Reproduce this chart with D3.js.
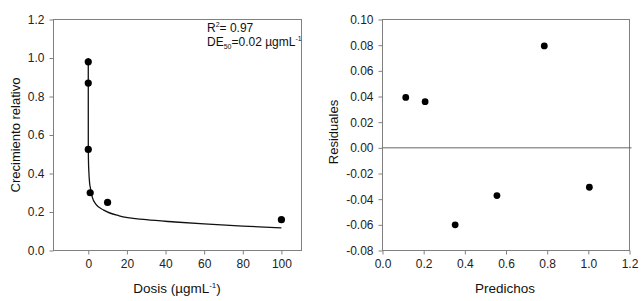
<!DOCTYPE html>
<html>
<head>
<meta charset="utf-8">
<script src="https://cdn.jsdelivr.net/npm/d3@7"></script>
<style>
  body { margin: 0; background: #fff; }
  svg { font-family: "Liberation Sans", Arial, sans-serif; }
  .tick text { font-size: 12px; fill: #222; }
  .tick line { stroke: #808080; }
</style>
</head>
<body>
<svg id="chart" width="643" height="301"></svg>
<script>
// dose-response data (left panel)
const doses = [0, 0, 0, 1, 10, 100];
const growth = [0.98, 0.87, 0.525, 0.30, 0.25, 0.16];
// fitted curve
const curveDose = [0, 0.02, 0.1, 0.3, 0.7, 1, 2, 4, 8, 16, 30, 45, 60, 80, 100];
const curveGrowth = [1.0, 0.55, 0.47, 0.41, 0.35, 0.33, 0.28, 0.24, 0.21, 0.18, 0.16, 0.148, 0.138, 0.127, 0.118];
const doseTicks = [0, 20, 40, 60, 80, 100];
const growthTicks = [0, 0.2, 0.4, 0.6, 0.8, 1.0, 1.2];

// residuals (right panel)
const predicted = [0.113, 0.207, 0.786, 0.353, 0.556, 1.005];
const residuals = [0.0393, 0.036, 0.0794, -0.060, -0.0372, -0.0307];
const predTicks = [0, 0.2, 0.4, 0.6, 0.8, 1.0, 1.2];
const residTicks = [-0.08, -0.06, -0.04, -0.02, 0, 0.02, 0.04, 0.06, 0.08, 0.10];

const svg = d3.select("#chart");
const frameColor = "#808080";

function fmt(digits) {
  return (d) => d.toFixed(digits);
}

function drawPanel({ left, right, top, bottom, xDomain, yDomain, xTicks, yTicks, xFmt, yFmt }) {
  const x = d3.scaleLinear().domain(xDomain).range([left, right]);
  const y = d3.scaleLinear().domain(yDomain).range([bottom, top]);

  const xAxisG = svg.append("g")
    .attr("transform", `translate(0,${bottom})`)
    .call(d3.axisBottom(x).tickValues(xTicks).tickFormat(xFmt).tickSize(4).tickSizeOuter(0).tickPadding(5));
  xAxisG.select(".domain").remove();

  const yAxisG = svg.append("g")
    .attr("transform", `translate(${left},0)`)
    .call(d3.axisLeft(y).tickValues(yTicks).tickFormat(yFmt).tickSize(4).tickSizeOuter(0).tickPadding(5));
  yAxisG.select(".domain").remove();

  svg.append("rect")
    .attr("x", left)
    .attr("y", top)
    .attr("width", right - left)
    .attr("height", bottom - top)
    .attr("fill", "none")
    .attr("stroke", frameColor)
    .attr("stroke-width", 1);

  return { x, y };
}

// left panel
const L = drawPanel({
  left: 53.5, right: 301.5, top: 19.5, bottom: 250.5,
  xDomain: [-18, 110.4], yDomain: [0, 1.2],
  xTicks: doseTicks, yTicks: growthTicks,
  xFmt: (d) => d, yFmt: fmt(1),
});

const curve = curveDose.map((d, i) => [d, curveGrowth[i]]);
svg.append("path")
  .datum(curve)
  .attr("fill", "none")
  .attr("stroke", "#111")
  .attr("stroke-width", 1.3)
  .attr("d", d3.line().x((d) => L.x(d[0])).y((d) => L.y(d[1])).curve(d3.curveMonotoneX));

svg.append("g")
  .selectAll("circle")
  .data(doses.map((d, i) => [d, growth[i]]))
  .join("circle")
  .attr("cx", (d) => L.x(d[0]))
  .attr("cy", (d) => L.y(d[1]))
  .attr("r", 3.6)
  .attr("fill", "#000");

const ann = svg.append("g").attr("font-size", 12).attr("fill", "#111");
const r2 = ann.append("text").attr("x", 207).attr("y", 32);
r2.append("tspan").text("R");
r2.append("tspan").attr("dy", -5).attr("font-size", 7).text("2");
r2.append("tspan").attr("dy", 5).text("= 0.97");
const de = ann.append("text").attr("x", 207).attr("y", 46);
de.append("tspan").text("DE");
de.append("tspan").attr("dy", 3).attr("font-size", 7).text("50");
de.append("tspan").attr("dy", -3).text("=0.02 µgmL");
de.append("tspan").attr("dy", -5).attr("font-size", 7).text("-1");

svg.append("text")
  .attr("transform", "translate(20,135) rotate(-90)")
  .attr("text-anchor", "middle")
  .attr("font-size", 13)
  .attr("fill", "#111")
  .text("Crecimiento relativo");

const xl = svg.append("text")
  .attr("x", 177)
  .attr("y", 293)
  .attr("text-anchor", "middle")
  .attr("font-size", 13.5)
  .attr("fill", "#111");
xl.append("tspan").text("Dosis (µgmL");
xl.append("tspan").attr("dy", -5).attr("font-size", 8).text("-1");
xl.append("tspan").attr("dy", 5).text(")");

// right panel
const R = drawPanel({
  left: 382.5, right: 629.5, top: 19.5, bottom: 250.5,
  xDomain: [0, 1.2], yDomain: [-0.08, 0.10],
  xTicks: predTicks, yTicks: residTicks,
  xFmt: fmt(1), yFmt: fmt(2),
});

svg.append("line")
  .attr("x1", R.x(0))
  .attr("x2", R.x(1.2) + 2)
  .attr("y1", R.y(0))
  .attr("y2", R.y(0))
  .attr("stroke", "#666")
  .attr("stroke-width", 1);

svg.append("g")
  .selectAll("circle")
  .data(predicted.map((d, i) => [d, residuals[i]]))
  .join("circle")
  .attr("cx", (d) => R.x(d[0]))
  .attr("cy", (d) => R.y(d[1]))
  .attr("r", 3.4)
  .attr("fill", "#000");

svg.append("text")
  .attr("transform", "translate(338,132) rotate(-90)")
  .attr("text-anchor", "middle")
  .attr("font-size", 13)
  .attr("fill", "#111")
  .text("Residuales");

svg.append("text")
  .attr("x", 505)
  .attr("y", 293)
  .attr("text-anchor", "middle")
  .attr("font-size", 13.5)
  .attr("fill", "#111")
  .text("Predichos");
</script>
</body>
</html>
